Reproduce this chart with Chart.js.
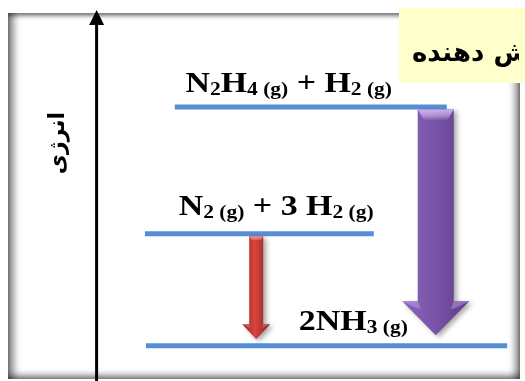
<!DOCTYPE html>
<html><head><meta charset="utf-8">
<script src="https://cdn.jsdelivr.net/npm/chart.js@4"></script>
<style>
html,body{margin:0;padding:0;background:#fff;}
#wrap{position:relative;width:525px;height:381px;overflow:hidden;background:#fff;}
#frame{position:absolute;left:8px;top:13px;width:512px;height:366px;
  box-shadow: inset 9px 0 7px -3px rgba(0,0,0,0.45), inset 0 4px 4px -1px rgba(0,0,0,0.45),
              inset -8px 0 7px -3px rgba(0,0,0,0.45), inset 0 -6px 6px -2px rgba(0,0,0,0.45);}
canvas{position:absolute;left:0;top:0;}
</style></head>
<body>
<div id="wrap"><div id="frame"></div><canvas id="c" width="525" height="381"></canvas></div>
<script>
// ---- data (reaction coordinate 0..100, energy in kJ relative to N2 + 3H2) ----
const levelNames  = ['N2H4(g) + H2(g)', 'N2(g) + 3 H2(g)', '2NH3(g)'];
const levelEnergy = [104, 0, -92];
const levelStart  = [33.3, 27.6, 27.8];
const levelEnd    = [85.1, 71.2, 96.6];
const labelCenter = [55.0, 52.6, 67.3];
const arrowX      = [48.8, 83.0];
const arrowFrom   = [0, 104];
const arrowTo     = [-92, -92];
const axisX       = 18.4;
const yTitle      = 'انرژی';
const boxText     = 'واکنش دهنده';
// formula parts: [text, isSubscript]
const formulaTop = [['N',0],['2',1],['H',0],['4',1],[' (g)',1],[' + ',0],['H',0],['2',1],[' (g)',1]];
const formulaMid = [['N',0],['2',1],[' (g)',1],[' + 3 ',0],['H',0],['2',1],[' (g)',1]];
const formulaBot = [['2NH',0],['3',1],[' (g)',1]];
const formulas = [formulaTop, formulaMid, formulaBot];

// ---- styles ----
const labelLift = [15, 19, 16];
const levelColor = '#558ed5';
const arrowStyles = [
  {shaft:14, head:28, headLen:15, gap:4, edge:'#9c2424', mid:'#d8453e', dark:'#8e1e1e', bevel:'#ec7a74'},
  {shaft:36, head:67, headLen:34, gap:8, edge:'#8a64ba', mid:'#7a55aa', dark:'#5e3d88', bevel:'#cba6f0'}
];

function drawArrow(ctx, cx, y0, y1, s){
  const hs = s.shaft/2, hh = s.head/2;
  const yb = y1 - s.headLen;
  ctx.save();
  ctx.shadowColor = 'rgba(0,0,0,0.35)';
  ctx.shadowBlur = 5; ctx.shadowOffsetX = 3; ctx.shadowOffsetY = 2;
  let g = ctx.createLinearGradient(cx-hh, 0, cx+hh, 0);
  g.addColorStop(0, s.edge); g.addColorStop(0.45, s.mid); g.addColorStop(1, s.dark);
  ctx.fillStyle = g;
  ctx.beginPath();
  ctx.moveTo(cx-hs, y0); ctx.lineTo(cx+hs, y0); ctx.lineTo(cx+hs, yb);
  ctx.lineTo(cx+hh, yb); ctx.lineTo(cx, y1); ctx.lineTo(cx-hh, yb); ctx.lineTo(cx-hs, yb);
  ctx.closePath(); ctx.fill();
  ctx.restore();
  ctx.save();
  const bh = Math.max(4, s.shaft*0.3);
  let gb = ctx.createLinearGradient(0, y0, 0, y0+bh);
  gb.addColorStop(0, s.bevel); gb.addColorStop(1, 'rgba(255,255,255,0)');
  ctx.fillStyle = gb;
  ctx.beginPath();
  ctx.moveTo(cx-hs, y0); ctx.lineTo(cx+hs, y0); ctx.lineTo(cx+hs-bh*0.6, y0+bh); ctx.lineTo(cx-hs+bh*0.6, y0+bh);
  ctx.closePath(); ctx.fill();
  ctx.globalAlpha = 0.45;
  ctx.fillStyle = s.bevel;
  const bw = s.headLen*0.3;
  ctx.beginPath();
  ctx.moveTo(cx-hh, yb); ctx.lineTo(cx-hs, yb); ctx.lineTo(cx-hs+bw*0.3, yb+bw*0.8); ctx.lineTo(cx-hh+bw*1.2, yb+bw*0.6); ctx.closePath(); ctx.fill();
  ctx.beginPath();
  ctx.moveTo(cx+hh, yb); ctx.lineTo(cx+hs, yb); ctx.lineTo(cx+hs-bw*0.3, yb+bw*0.8); ctx.lineTo(cx+hh-bw*1.2, yb+bw*0.6); ctx.closePath(); ctx.fill();
  ctx.restore();
}

function drawFormula(ctx, parts, cx, baseline){
  const mainF = 'bold 30px "Liberation Serif", "Times New Roman", serif';
  const subF  = 'bold 19px "Liberation Serif", "Times New Roman", serif';
  const sx = 1.13, drop = 3;
  ctx.save();
  let total = 0;
  const widths = parts.map(p => { ctx.font = p[1] ? subF : mainF; const w = ctx.measureText(p[0]).width; total += w; return w; });
  ctx.translate(cx, baseline); ctx.scale(sx, 1);
  ctx.fillStyle = '#000'; ctx.textAlign = 'left'; ctx.textBaseline = 'alphabetic';
  let xp = -total/2;
  parts.forEach((p, i) => { ctx.font = p[1] ? subF : mainF; ctx.fillText(p[0], xp, p[1] ? drop : 0); xp += widths[i]; });
  ctx.restore();
}

const diagram = {
  id: 'diagram',
  afterDatasetsDraw(chart){
    const {ctx, chartArea, scales:{x, y}} = chart;
    const ax = x.getPixelForValue(axisX);
    ctx.save();
    ctx.strokeStyle = '#000'; ctx.lineWidth = 3;
    ctx.beginPath(); ctx.moveTo(ax, chartArea.bottom); ctx.lineTo(ax, chartArea.top + 22); ctx.stroke();
    ctx.fillStyle = '#000';
    ctx.beginPath(); ctx.moveTo(ax, chartArea.top + 10); ctx.lineTo(ax + 7.5, chartArea.top + 25); ctx.lineTo(ax - 7.5, chartArea.top + 25); ctx.closePath(); ctx.fill();
    ctx.translate(ax - 38, 143); ctx.rotate(-Math.PI/2);
    ctx.font = 'bold 22px "DejaVu Sans", sans-serif';
    ctx.direction = 'rtl'; ctx.textAlign = 'center'; ctx.textBaseline = 'middle';
    ctx.fillText(yTitle, 0, 0);
    ctx.restore();
    arrowX.forEach((v, i) => {
      const s = arrowStyles[i];
      const y0 = y.getPixelForValue(arrowFrom[i]) + 2.5;
      const y1 = y.getPixelForValue(arrowTo[i]) - 2.5 - s.gap;
      drawArrow(ctx, x.getPixelForValue(v), y0, y1, s);
    });
    formulas.forEach((f, i) => {
      drawFormula(ctx, f, x.getPixelForValue(labelCenter[i]), y.getPixelForValue(levelEnergy[i]) - labelLift[i]);
    });
    ctx.save();
    ctx.fillStyle = '#ffffcc';
    ctx.fillRect(399, 8, 126, 75);
    ctx.beginPath(); ctx.rect(399, 8, 120, 75); ctx.clip();
    ctx.fillStyle = '#000';
    ctx.font = 'bold 26px "DejaVu Sans", sans-serif';
    ctx.direction = 'rtl'; ctx.textAlign = 'left'; ctx.textBaseline = 'alphabetic';
    ctx.fillText(boxText, 412, 61);
    ctx.restore();
  }
};

new Chart(document.getElementById('c'), {
  type: 'line',
  data: {
    datasets: levelEnergy.map((e, i) => ({
      label: levelNames[i],
      data: [{x: levelStart[i], y: e}, {x: levelEnd[i], y: e}],
      borderColor: levelColor, borderWidth: 5, pointRadius: 0,
      borderCapStyle: 'butt', fill: false, clip: false
    }))
  },
  options: {
    responsive: false, animation: false, devicePixelRatio: 1,
    layout: {padding: 0},
    plugins: {legend: {display: false}, tooltip: {enabled: false}},
    scales: {
      x: {type: 'linear', min: 0, max: 100, display: false},
      y: {min: -121, max: 192, display: false}
    }
  },
  plugins: [diagram]
});
</script>
</body></html>
